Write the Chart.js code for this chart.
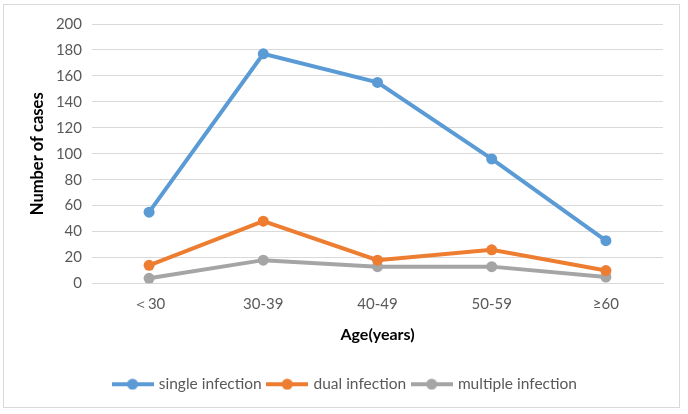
<!DOCTYPE html>
<html>
<head>
<meta charset="utf-8">
<script src="https://cdn.jsdelivr.net/npm/chart.js@4.4.0/dist/chart.umd.min.js"></script>
<style>
    html, body { margin: 0; padding: 0; background: #ffffff; }
    #wrap { width: 688px; height: 414px; position: relative; }
</style>
</head>
<body>
<div id="wrap"><canvas id="grafico" width="688" height="414"></canvas></div>
<script>
const ageGroups = ['＜30', '30-39', '40-49', '50-59', '≥60'];
const singleInfection = [55, 177, 155, 96, 33];
const dualInfection = [14, 48, 18, 26, 10];
const multipleInfection = [4, 18, 13, 13, 5];
const yTicks = [0, 20, 40, 60, 80, 100, 120, 140, 160, 180, 200];

const fonte = 'Lato, "Liberation Sans", Arial, sans-serif';

// icone da legenda: linha com bolinha no meio, igual ao Excel
function legendIcon(color) {
    const c = document.createElement('canvas');
    c.width = 42;
    c.height = 12;
    const ctx = c.getContext('2d');
    ctx.strokeStyle = color;
    ctx.lineWidth = 4;
    ctx.beginPath();
    ctx.moveTo(0, 6);
    ctx.lineTo(42, 6);
    ctx.stroke();
    ctx.fillStyle = color;
    ctx.beginPath();
    ctx.arc(21, 6, 5.5, 0, Math.PI * 2);
    ctx.fill();
    return c;
}

const moldura = {
    id: 'moldura',
    beforeDraw(chart) {
        const ctx = chart.ctx;
        ctx.save();
        ctx.fillStyle = '#ffffff';
        ctx.fillRect(0, 0, chart.width, chart.height);
        ctx.strokeStyle = '#d9d9d9';
        ctx.lineWidth = 1;
        ctx.strokeRect(3.5, 4.5, 676, 403);
        ctx.restore();
    }
};

function serie(label, data, color) {
    return {
        label: label,
        data: data,
        borderColor: color,
        backgroundColor: color,
        borderWidth: 4,
        pointRadius: 5.5,
        pointHoverRadius: 5.5,
        pointBorderWidth: 0,
        pointBackgroundColor: color,
        tension: 0,
        pointStyle: 'circle',
        icon: legendIcon(color)
    };
}

new Chart(document.getElementById('grafico').getContext('2d'), {
    type: 'line',
    data: {
        labels: ageGroups,
        datasets: [
            serie('single infection', singleInfection, '#5b9bd5'),
            serie('dual infection', dualInfection, '#ed7d31'),
            serie('multiple infection', multipleInfection, '#a5a5a5')
        ]
    },
    options: {
        responsive: false,
        animation: false,
        layout: { padding: { left: 28, right: 25, top: 24, bottom: 12 } },
        plugins: {
            tooltip: { enabled: false },
            legend: {
                position: 'bottom',
                labels: {
                    usePointStyle: true,
                    pointStyleWidth: 37,
                    padding: 7,
                    color: '#595959',
                    font: { family: fonte, size: 15.5 },
                    generateLabels(chart) {
                        return chart.data.datasets.map((ds, i) => ({
                            text: ds.label,
                            fillStyle: ds.borderColor,
                            strokeStyle: ds.borderColor,
                            lineWidth: 0,
                            pointStyle: ds.icon,
                            fontColor: '#595959',
                            hidden: false,
                            datasetIndex: i
                        }));
                    }
                }
            }
        },
        scales: {
            x: {
                offset: true,
                grid: { display: false, drawTicks: false },
                border: { color: '#d9d9d9', width: 1 },
                ticks: { color: '#595959', font: { family: fonte, size: 15 }, padding: 12 },
                title: {
                    display: true,
                    text: 'Age(years)',
                    color: '#000000',
                    font: { family: fonte, size: 16, weight: 'bold' },
                    padding: { top: 0, bottom: 25 }
                },
                afterFit(scale) { scale.height = 86; }
            },
            y: {
                min: 0,
                max: 200,
                afterBuildTicks(scale) { scale.ticks = yTicks.map(v => ({ value: v })); },
                grid: { color: '#d9d9d9', lineWidth: 1, drawTicks: false },
                border: { display: false },
                ticks: { color: '#595959', font: { family: fonte, size: 15 }, padding: 10 },
                title: {
                    display: true,
                    text: 'Number of cases',
                    color: '#000000',
                    font: { family: fonte, size: 16.5, weight: 'bold' },
                    padding: { top: 0, bottom: 0 }
                },
                afterFit(scale) { scale.width = 64; }
            }
        }
    },
    plugins: [moldura]
});
</script>
</body>
</html>
